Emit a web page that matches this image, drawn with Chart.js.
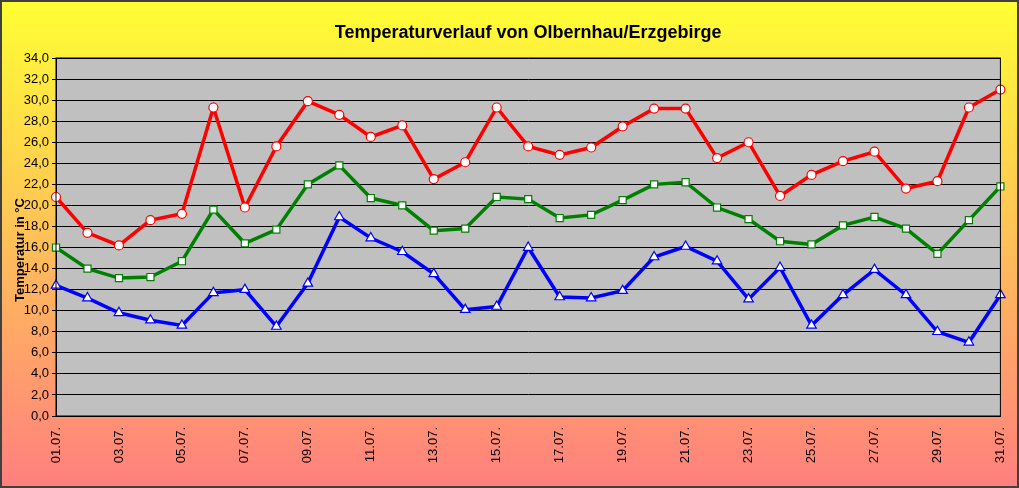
<!DOCTYPE html>
<html><head><meta charset="utf-8">
<script src="https://cdn.jsdelivr.net/npm/chart.js@4"></script>
<style>html,body{margin:0;padding:0;}#w{width:1019px;height:488px;}</style>
</head><body><div id="w"><canvas id="c"></canvas></div>
<script>
const labels = Array.from({length:31},(_,i)=>String(i+1).padStart(2,'0')+'.07.');
const tmax = [20.8,17.4,16.2,18.6,19.2,29.3,19.8,25.6,29.9,28.6,26.5,27.6,22.5,24.1,29.3,25.6,24.8,25.5,27.5,29.2,29.2,24.5,26.0,20.9,22.9,24.2,25.1,21.6,22.3,29.3,31.0];
const tmean = [16.0,14.0,13.1,13.2,14.7,19.6,16.4,17.7,22.0,23.8,20.7,20.0,17.6,17.8,20.8,20.6,18.8,19.1,20.5,22.0,22.2,19.8,18.7,16.6,16.3,18.1,18.9,17.8,15.4,18.6,21.8];
const tmin = [12.4,11.2,9.8,9.1,8.6,11.7,12.0,8.5,12.6,18.9,16.9,15.6,13.5,10.1,10.4,16.0,11.3,11.2,11.9,15.1,16.1,14.7,11.1,14.1,8.6,11.5,13.9,11.5,8.0,7.0,11.5];
const yTicks = {min:0,max:34,step:2};
const bg = {id:'bg',beforeDraw(ch){const c=ch.ctx,a=ch.chartArea;
 const g=c.createLinearGradient(0,0,0,ch.height);g.addColorStop(0,'#FFFF33');g.addColorStop(1,'#FF7F7F');
 c.save();c.fillStyle=g;c.fillRect(0,0,ch.width,ch.height);
 c.strokeStyle='#404040';c.lineWidth=2;c.strokeRect(1,1,ch.width-2,ch.height-2);
 c.fillStyle='#C0C0C0';c.fillRect(a.left,a.top,a.right-a.left,a.bottom-a.top);
 c.fillStyle='#000';c.font='bold 18px Arial, "Liberation Sans"';c.textAlign='center';c.textBaseline='middle';
 c.fillText('Temperaturverlauf von Olbernhau/Erzgebirge',(a.left+a.right)/2,33);c.restore();},
 afterDraw(ch){const c=ch.ctx,a=ch.chartArea;c.save();c.strokeStyle='#000';c.lineWidth=1;c.strokeRect(a.left,a.top,a.right-a.left,a.bottom-a.top);
 c.translate(20,250);c.rotate(-Math.PI/2);c.font='bold 13px Arial, "Liberation Sans"';c.fillStyle='#000';c.textAlign='center';c.textBaseline='middle';c.fillText('Temperatur in °C',0,0);c.restore();}};
const ds=(l,d,col,shape,r)=>({label:l,data:d,borderColor:col,borderWidth:3.5,pointStyle:shape,pointRadius:r,pointBackgroundColor:'#fff',pointBorderColor:col,pointBorderWidth:1.2,tension:0});
new Chart(document.getElementById('c'),{type:'line',
 data:{labels,datasets:[ds('Max',tmax,'#FF0000','circle',4.5),ds('Mittel',tmean,'#008000','rect',5),ds('Min',tmin,'#0000FF','triangle',5.5)]},
 options:{responsive:true,maintainAspectRatio:false,animation:false,
  layout:{padding:{left:4,right:16,top:58,bottom:6}},
  plugins:{legend:{display:false},tooltip:{enabled:false}},
  scales:{
   x:{offset:false,grid:{display:false},border:{color:'#000'},
      ticks:{autoSkip:false,maxRotation:90,minRotation:90,color:'#000',font:{size:13,family:'Arial, "Liberation Sans"'},
        callback:(v,i)=>i%2===0?labels[i]:''},
      afterFit:s=>{s.height=66;}},
   y:{min:yTicks.min,max:yTicks.max,grid:{color:'#000',drawTicks:true,tickLength:4},border:{color:'#000'},
      ticks:{stepSize:yTicks.step,color:'#000',font:{size:13,family:'Arial, "Liberation Sans"'},callback:v=>v.toFixed(1).replace('.',',')},
      afterFit:s=>{s.width=52;}}
  }},plugins:[bg]});
</script></body></html>
